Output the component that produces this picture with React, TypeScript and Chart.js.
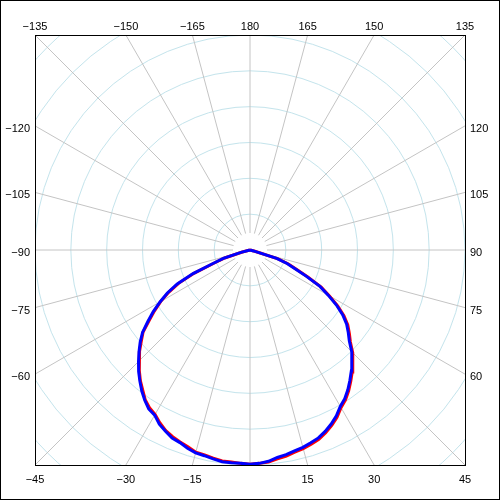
import { useEffect, useRef } from 'react';
import { Chart, registerables } from 'chart.js';

Chart.register(...registerables);

// Angles in degrees (0 = straight down, positive toward the right)
const ANGLES = [-90, -87.5, -85, -82.5, -80, -77.5, -75, -72.5, -70, -67.5, -65, -62.5, -60, -57.5, -55, -52.5,
  -50, -47.5, -45, -42.5, -40, -37.5, -35, -32.5, -30, -27.5, -25, -22.5, -20, -17.5, -15, -12.5, -10, -7.5,
  -5, -2.5, 0, 2.5, 5, 7.5, 10, 12.5, 15, 17.5, 20, 22.5, 25, 27.5, 30, 32.5, 35, 37.5, 40, 42.5, 45, 47.5,
  50, 52.5, 55, 57.5, 60, 62.5, 65, 67.5, 70, 72.5, 75, 77.5, 80, 82.5, 85, 87.5, 90];

// Intensity values (blue series)
const SERIES_BLUE = [0, 0, 0, 0, 0, 0, 13, 39, 55, 86, 112, 130, 145, 160, 174, 189,
  200, 210, 220, 230, 239, 248, 256, 263, 266, 274, 279, 284, 286, 290, 293, 294, 296, 298,
  298, 298, 299, 298, 296, 292, 290, 287, 285, 282, 279, 274, 268, 261, 252, 246, 238, 229, 220, 210, 201, 188,
  179, 170, 158, 143, 126, 110, 87, 68, 55, 39, 5, 0, 0, 0, 0, 0, 0];

// Intensity values (red series)
const SERIES_RED = [0, 0, 0, 0, 0, 0, 11, 37, 53, 84, 110, 128, 144, 158, 172, 188,
  198, 209, 219, 228, 238, 246, 255, 261, 265, 272, 278, 282, 285, 288, 292, 293, 295, 297,
  297, 298, 299, 298, 297, 294, 292, 289, 287, 284, 281, 276, 270, 263, 254, 248, 240, 231, 222, 212, 203, 190,
  181, 172, 160, 145, 128, 112, 89, 70, 57, 41, 7, 0, 0, 0, 0, 0, 0];

const LABEL_ANGLES = [-165, -150, -135, -120, -105, -90, -75, -60, -45, -30, -15,
  15, 30, 45, 60, 75, 90, 105, 120, 135, 150, 165, 180];

const SPOKE_ANGLES = [-165, -150, -135, -120, -105, -90, -75, -60, -45, -30, -15, 0,
  15, 30, 45, 60, 75, 90, 105, 120, 135, 150, 165, 180];

const RING_VALUES = [50, 100, 150, 200, 250, 300, 350, 400, 450];

const AXIS_MAX = 300;

const toXY = (angles: number[], values: number[]) =>
  angles.map((a, i) => {
    const rad = (a * Math.PI) / 180;
    return { x: values[i] * Math.sin(rad), y: -values[i] * Math.cos(rad) };
  });

const polarPlugin = {
  id: 'polarFrame',
  beforeDraw(chart: any) {
    const ctx = chart.ctx;
    ctx.save();
    ctx.fillStyle = '#ffffff';
    ctx.fillRect(0, 0, chart.width, chart.height);
    ctx.restore();
  },
  beforeDatasetsDraw(chart: any) {
    const { ctx, chartArea } = chart;
    const xs = chart.scales.x;
    const ys = chart.scales.y;
    const cx = xs.getPixelForValue(0);
    const cy = ys.getPixelForValue(0);
    const unit = xs.getPixelForValue(1) - xs.getPixelForValue(0);
    ctx.save();
    ctx.beginPath();
    ctx.rect(chartArea.left, chartArea.top, chartArea.right - chartArea.left, chartArea.bottom - chartArea.top);
    ctx.clip();
    ctx.strokeStyle = 'rgb(196,228,236)';
    ctx.lineWidth = 1;
    RING_VALUES.forEach((v) => {
      ctx.beginPath();
      ctx.arc(cx, cy, v * unit, 0, Math.PI * 2);
      ctx.stroke();
    });
    ctx.strokeStyle = 'rgb(196,196,196)';
    const inner = 17;
    const outer = 400;
    SPOKE_ANGLES.forEach((a) => {
      const rad = (a * Math.PI) / 180;
      const dx = Math.sin(rad);
      const dy = Math.cos(rad);
      ctx.beginPath();
      ctx.moveTo(cx + dx * inner, cy + dy * inner);
      ctx.lineTo(cx + dx * outer, cy + dy * outer);
      ctx.stroke();
    });
    ctx.restore();
  },
  afterDatasetsDraw(chart: any) {
    const { ctx, chartArea } = chart;
    const xs = chart.scales.x;
    const cx = xs.getPixelForValue(0);
    const cy = chart.scales.y.getPixelForValue(0);
    const half = xs.getPixelForValue(AXIS_MAX) - cx;
    ctx.save();
    ctx.strokeStyle = '#000000';
    ctx.lineWidth = 1;
    ctx.strokeRect(chartArea.left + 0.5, chartArea.top + 0.5, chartArea.right - chartArea.left, chartArea.bottom - chartArea.top);
    ctx.strokeRect(0.5, 0.5, chart.width - 1, chart.height - 1);
    ctx.fillStyle = '#000000';
    ctx.font = "11px 'Liberation Sans', Arial, sans-serif";
    LABEL_ANGLES.forEach((a) => {
      const rad = (a * Math.PI) / 180;
      const dx = Math.sin(rad);
      const dy = Math.cos(rad);
      const t = half / Math.max(Math.abs(dx), Math.abs(dy));
      const px = cx + dx * t;
      const py = cy + dy * t;
      const text = a < 0 ? '\u2212' + Math.abs(a) : String(a);
      ctx.textBaseline = 'alphabetic';
      if (Math.abs(dy) >= Math.abs(dx) - 1e-9) {
        ctx.textAlign = 'center';
        if (dy < 0) ctx.fillText(text, px, chartArea.top - 5);
        else ctx.fillText(text, px, chartArea.bottom + 18);
      } else if (dx < 0) {
        ctx.textAlign = 'right';
        ctx.fillText(text, chartArea.left - 5, py + 6);
      } else {
        ctx.textAlign = 'left';
        ctx.fillText(text, chartArea.right + 5, py + 6);
      }
    });
    ctx.restore();
  },
};

export default function App() {
  const canvasRef = useRef<HTMLCanvasElement | null>(null);

  useEffect(() => {
    document.body.style.margin = '0';
    const canvas = canvasRef.current;
    if (!canvas) return;
    const chart = new Chart(canvas, {
      type: 'scatter',
      data: {
        datasets: [
          {
            label: 'Blue',
            data: toXY(ANGLES, SERIES_BLUE),
            showLine: true,
            borderColor: '#0000ff',
            backgroundColor: '#0000ff',
            borderWidth: 3,
            pointRadius: 0,
            tension: 0,
          },
          {
            label: 'Red',
            data: toXY(ANGLES, SERIES_RED),
            showLine: true,
            borderColor: '#ff0000',
            backgroundColor: '#ff0000',
            borderWidth: 3,
            pointRadius: 0,
            tension: 0,
          },
        ],
      },
      options: {
        responsive: false,
        animation: false,
        devicePixelRatio: 1,
        layout: { padding: 35 },
        plugins: { legend: { display: false }, tooltip: { enabled: false } },
        scales: {
          x: { type: 'linear', min: -AXIS_MAX, max: AXIS_MAX, display: false },
          y: { type: 'linear', min: -AXIS_MAX, max: AXIS_MAX, display: false },
        },
      },
      plugins: [polarPlugin],
    });
    return () => chart.destroy();
  }, []);

  return <canvas ref={canvasRef} width={500} height={500} style={{ display: 'block' }} />;
}
